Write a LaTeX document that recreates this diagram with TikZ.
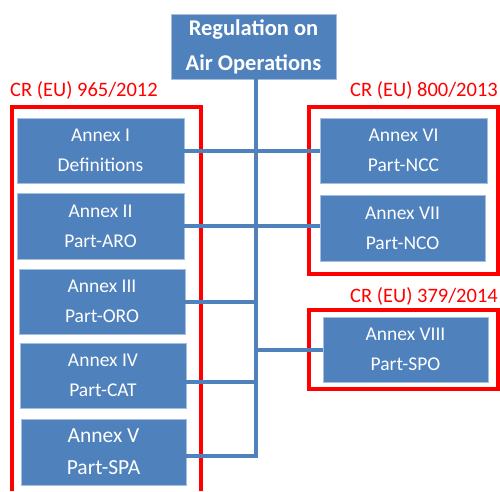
\documentclass[tikz,border=0pt]{standalone}
\usepackage{fontspec}
\setmainfont{Carlito}
\definecolor{annexblue}{HTML}{4F81BD}
\definecolor{annexedge}{HTML}{A7BFDE}
\definecolor{crred}{HTML}{FF0000}
\begin{document}
\begin{tikzpicture}[x=1pt,y=-1pt,
  annex/.style={fill=annexblue, draw=annexedge, line width=0.8pt, text=white, align=center, inner sep=0pt, minimum width=166pt, minimum height=65pt, font=\fontsize{19.5}{30}\selectfont},
  regbox/.style={annex, minimum width=165pt, font=\fontsize{22.5}{35}\selectfont\bfseries},
  link/.style={draw=annexblue, line width=4pt},
  frame/.style={draw=crred, line width=3.5pt},
  crlabel/.style={text=crred, inner sep=0pt, font=\fontsize{20.5}{24}\selectfont}]
\useasboundingbox (0,0) rectangle (500,491);
\draw[frame] (12,491) -- (12,107) -- (201,107) -- (201,491);
\draw[frame] (309,107) rectangle (498,274);
\draw[frame] (309,310) rectangle (498,389);
\node[crlabel, anchor=base west] (cr965) at (10,96) {CR (EU) 965/2012};
\node[crlabel, anchor=base east] (cr800) at (498,96) {CR (EU) 800/2013};
\node[crlabel, anchor=base east] (cr379) at (498,302) {CR (EU) 379/2014};
\node[regbox] (regulation) at (253.5,46.5) {Regulation on\\Air Operations};
\node[annex, minimum width=167pt] (annex1) at (100.5,150.5) {Annex I\\Definitions};
\node[annex, minimum width=167pt, minimum height=66pt] (annex2) at (100.5,226) {Annex II\\Part-ARO};
\node[annex] (annex3) at (102,301.5) {Annex III\\Part-ORO};
\node[annex] (annex4) at (103,375.5) {Annex IV\\Part-CAT};
\node[annex, minimum width=165pt, minimum height=66pt, font=\fontsize{21.5}{32}\selectfont] (annex5) at (103.5,452) {Annex V\\Part-SPA};
\node[annex, minimum width=167pt] (annex6) at (403.5,150.5) {Annex VI\\Part-NCC};
\node[annex, minimum width=165pt, minimum height=66pt] (annex7) at (402.5,228) {Annex VII\\Part-NCO};
\node[annex, minimum width=165pt] (annex8) at (405.5,349.5) {Annex VIII\\Part-SPO};
\coordinate (trunkend) at (256,456);
\draw[link] (regulation.south -| trunkend) -- (trunkend) -- (trunkend -| annex5.east);
\draw[link] (annex1.east) -- (annex6.west);
\draw[link] (annex2.east) -- (annex2.east -| annex7.west);
\draw[link] (annex3.east) -- (annex3.east -| trunkend);
\draw[link] ([yshift=-6.5pt]annex4.east) -- ([yshift=-6.5pt]annex4.east -| trunkend);
\draw[link] (annex8.west) -- (annex8.west -| trunkend);
\end{tikzpicture}
\end{document}
